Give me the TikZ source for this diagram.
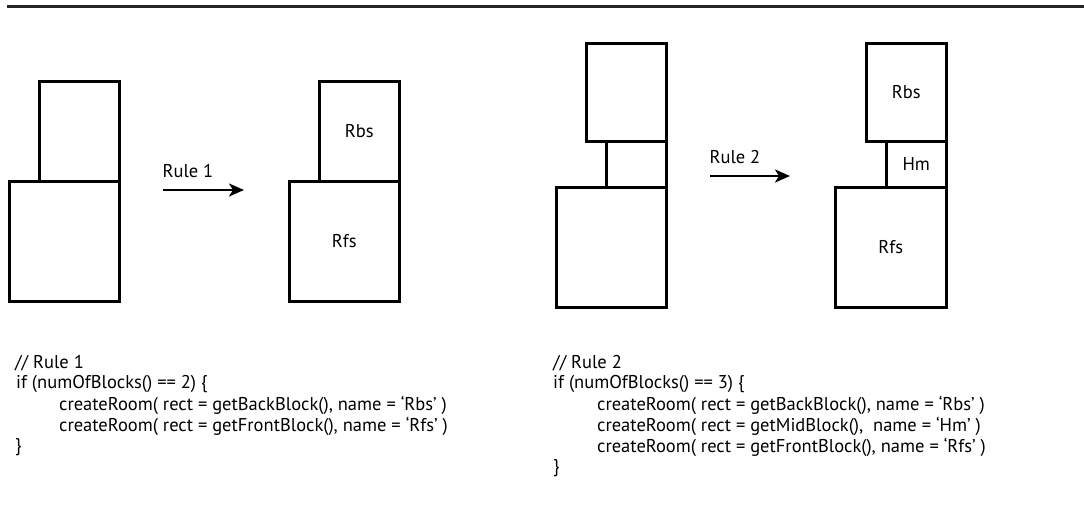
\documentclass[tikz,border=0pt]{standalone}
\usepackage{fontspec}
\setmainfont{PT Sans}
\usetikzlibrary{arrows.meta,positioning}

\tikzset{
  block/.style={draw, line width=2.5pt, inner sep=0pt, anchor=north west,
    font=\fontsize{18.5}{21}\selectfont},
  code/.style={anchor=west, inner sep=0pt, font=\fontsize{18.5}{21}\selectfont},
  rulearrow/.style={line width=2.3pt, -{Stealth[length=15pt,width=13pt,inset=4pt]}},
  rulelabel/.style={inner sep=0pt, font=\fontsize{18.5}{21}\selectfont},
}

\begin{document}
\begin{tikzpicture}[x=1pt,y=-1pt]

  \newcommand\DY{21}
  \newcommand\TY{363}

  \useasboundingbox (0,0) rectangle (1084,512);

  %% top rule
  \coordinate (topl) at (7,6);
  \coordinate (topr) at (1084,6);
  \draw[line width=3pt, black!85] (topl) -- (topr);

  %% rule 1, before
  \node[block, minimum width=80, minimum height=100] (back1) at (38,80) {};
  \node[block, minimum width=110, minimum height=120] (front1) at (8,180) {};

  %% rule 1 arrow
  \coordinate (a1s) at (163,190);
  \coordinate (a1e) at (244,190);
  \draw[rulearrow] (a1s) -- (a1e);
  \node[rulelabel] (lab1) at (188,171) {Rule 1};

  %% rule 1, after
  \node[block, minimum width=80, minimum height=100] (rbs1) at (318,80) {Rbs};
  \node[block, minimum width=110, minimum height=120] (rfs1) at (288,180) {Rfs};

  %% rule 2, before
  \node[block, minimum width=80, minimum height=98] (back2) at (585,42) {};
  \node[block, minimum width=60, minimum height=46] (mid2) at (605,140) {};
  \node[block, minimum width=110, minimum height=120] (front2) at (555,186) {};

  %% rule 2 arrow
  \coordinate (a2s) at (710,176);
  \coordinate (a2e) at (790,176);
  \draw[rulearrow] (a2s) -- (a2e);
  \node[rulelabel] (lab2) at (735,157) {Rule 2};

  %% rule 2, after
  \node[block, minimum width=80, minimum height=98] (rbs2) at (865,42) {Rbs};
  \node[block, minimum width=60, minimum height=46] (hm2) at (885,140) {Hm};
  \node[block, minimum width=111, minimum height=120] (rfs2) at (834,186) {Rfs};

  %% code, rule 1
  \node[code] (c1a) at (15,\TY) {// Rule 1};
  \node[code] (c1b) at (16,\TY+\DY) {if (numOfBlocks() == 2) \{};
  \node[code] (c1c) at (59,\TY+2*\DY) {createRoom( rect = getBackBlock(), name = ‘Rbs’ )};
  \node[code] (c1d) at (59,\TY+3*\DY) {createRoom( rect = getFrontBlock(), name = ‘Rfs’ )};
  \node[code] (c1e) at (15,\TY+4*\DY) {\}};

  %% code, rule 2
  \node[code] (c2a) at (553,\TY) {// Rule 2};
  \node[code] (c2b) at (553,\TY+\DY) {if (numOfBlocks() == 3) \{};
  \node[code] (c2c) at (597,\TY+2*\DY) {createRoom( rect = getBackBlock(), name = ‘Rbs’ )};
  \node[code] (c2d) at (597,\TY+3*\DY) {createRoom( rect = getMidBlock(),~ name = ‘Hm’ )};
  \node[code] (c2e) at (597,\TY+4*\DY) {createRoom( rect = getFrontBlock(), name = ‘Rfs’ )};
  \node[code] (c2f) at (553,\TY+5*\DY) {\}};

\end{tikzpicture}
\end{document}
